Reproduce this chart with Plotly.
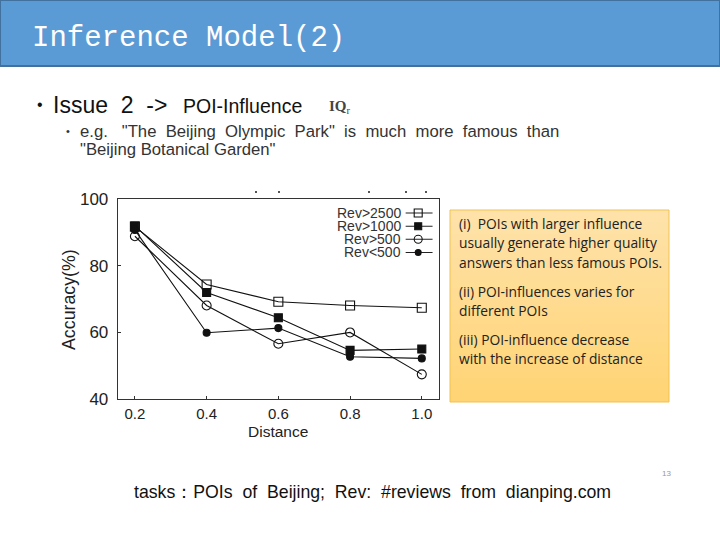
import plotly.graph_objects as go

W, H = 720, 540

distance = [0.2, 0.4, 0.6, 0.8, 1.0]
rev_2500 = [91.8, 74.4, 69.2, 68.1, 67.4]
rev_1000 = [92.0, 72.0, 64.4, 54.6, 55.0]
rev_500 = [88.9, 68.1, 56.6, 60.0, 47.4]
rev_lt500 = [90.8, 59.9, 61.3, 52.7, 52.2]
series_names = ["Rev>2500", "Rev>1000", "Rev>500", "Rev<500"]
y_ticks = [40, 60, 80, 100]
x_ticks = [0.2, 0.4, 0.6, 0.8, 1.0]
x_labels = ["0.2", "0.4", "0.6", "0.8", "1.0"]


def px(x):
    return x / W


def py(y):
    return 1 - y / H


def add_text(fig, x, y, text, size, color="#222222", family="Liberation Sans", anchor="left"):
    fig.add_annotation(
        x=px(x), y=py(y), xref="paper", yref="paper", text=text, showarrow=False,
        xanchor=anchor, yanchor="middle", borderpad=0,
        font=dict(size=size, color=color, family=family),
    )


fig = go.Figure()

# curves
styles = [
    (rev_2500, "square-open", 9),
    (rev_1000, "square", 8),
    (rev_500, "circle-open", 9),
    (rev_lt500, "circle", 7),
]
for (vals, sym, size), name in zip(styles, series_names):
    fig.add_trace(go.Scatter(
        x=distance, y=vals, mode="lines+markers", name=name,
        line=dict(color="#111111", width=1.1),
        marker=dict(symbol=sym, size=size, color="#111111", line=dict(color="#111111", width=1.1)),
        showlegend=False, cliponaxis=False,
    ))

# legend samples, drawn by hand because the symbols sit right of the text
key_x = [0.955, 0.99, 1.03]
key_y = [95.9, 91.9, 88.0, 84.0]
for (vals, sym, size), ky in zip(styles, key_y):
    fig.add_trace(go.Scatter(
        x=key_x, y=[ky] * 3, mode="lines", line=dict(color="#222222", width=1.1),
        showlegend=False, hoverinfo="skip",
    ))
    fig.add_trace(go.Scatter(
        x=key_x[1:2], y=[ky], mode="markers",
        marker=dict(symbol=sym, size=size - 1, color="#111111", line=dict(color="#111111", width=1.1)),
        showlegend=False, hoverinfo="skip",
    ))

fig.update_layout(
    width=W, height=H,
    margin=dict(l=0, r=0, t=0, b=0, autoexpand=False),
    paper_bgcolor="white", plot_bgcolor="white",
    xaxis=dict(
        domain=[px(117.7), px(439)], range=[0.152, 1.048], automargin=False,
        tickvals=x_ticks, ticktext=x_labels, ticks="inside", ticklen=3, tickcolor="#333333",
        showgrid=False, zeroline=False, showline=True, mirror=True, linecolor="#333333", linewidth=1,
        tickfont=dict(size=15, family="Liberation Sans", color="#222222"), ticklabelstandoff=1,
    ),
    yaxis=dict(
        domain=[py(399), py(199.3)], range=[40, 100], automargin=False,
        tickvals=y_ticks, ticks="inside", ticklen=3, tickcolor="#333333",
        showgrid=False, zeroline=False, showline=True, mirror=True, linecolor="#333333", linewidth=1,
        tickfont=dict(size=17, family="Liberation Sans", color="#222222"), ticklabelstandoff=5,
    ),
)

# header band
fig.add_shape(type="rect", xref="paper", yref="paper", x0=0, x1=1, y0=py(66), y1=1,
              fillcolor="#5B9BD5", line=dict(color="#41719C", width=2))

# callout box, gradient made of thin strips
box_l, box_r, box_t, box_b = 450, 669, 210, 402
n_strips = 32
top_col = (254, 226, 170)
bot_col = (255, 212, 116)
for i in range(n_strips):
    t = i / (n_strips - 1)
    col = [round(a + (b - a) * t) for a, b in zip(top_col, bot_col)]
    fig.add_shape(
        type="rect", xref="paper", yref="paper",
        x0=px(box_l), x1=px(box_r),
        y0=py(box_t + (box_b - box_t) * (i + 1) / n_strips),
        y1=py(box_t + (box_b - box_t) * i / n_strips),
        fillcolor="rgb(%d,%d,%d)" % tuple(col), line=dict(width=0),
    )
fig.add_shape(type="rect", xref="paper", yref="paper",
              x0=px(box_l), x1=px(box_r), y0=py(box_b), y1=py(box_t),
              line=dict(color="#F2C14E", width=1))

# leftover specks above the pasted chart
for sx in [255, 278, 368, 405, 425]:
    fig.add_shape(type="rect", xref="paper", yref="paper",
                  x0=px(sx), x1=px(sx + 2), y0=py(193), y1=py(191),
                  fillcolor="#555555", line=dict(width=0))

# slide text
add_text(fig, 31, 38.5, "Inference Model(2)", 29, color="white", family="Liberation Mono")
add_text(fig, 36, 105, "•", 16, color="#111111")
add_text(fig, 52, 105, "Issue&nbsp;&nbsp;2&nbsp;&nbsp;->", 23, color="#111111")
add_text(fig, 182, 106, "POI-Influence", 19.5, color="#111111")
add_text(fig, 328, 107, "<b>IQ</b><sub>r</sub>", 15, color="#444444", family="Liberation Serif")
add_text(fig, 65, 131, "•", 11, color="#333333")
add_text(fig, 79, 131, "e.g.&nbsp;&nbsp;&nbsp;\"The&nbsp;&nbsp;Beijing&nbsp;&nbsp;Olympic&nbsp;&nbsp;Park\"&nbsp;&nbsp;is&nbsp;&nbsp;much&nbsp;&nbsp;more&nbsp;&nbsp;famous&nbsp;&nbsp;than", 16.7, color="#333333")
add_text(fig, 79, 149, "\"Beijing Botanical Garden\"", 16.7, color="#333333")

# axis titles
add_text(fig, 278, 431, "Distance", 15.5, anchor="center")
fig.add_annotation(x=px(69), y=py(300), xref="paper", yref="paper", text="Accuracy(%)",
                   showarrow=False, textangle=-90, xanchor="center", yanchor="middle",
                   font=dict(size=17.8, family="Liberation Sans", color="#222222"))

# legend text
for name, y in zip(series_names, [213, 226.3, 239.3, 252.3]):
    add_text(fig, 402, y, name.replace("<", "&lt;"), 14, color="#333333", anchor="right")

# callout text
callout_lines = [
    ("(i)  POIs with larger influence", 224),
    ("usually generate higher quality", 243),
    ("answers than less famous POIs.", 262),
    ("(ii) POI-influences varies for", 291),
    ("different POIs", 310),
    ("(iii) POI-influence decrease", 339),
    ("with the increase of distance", 358),
]
for line, y in callout_lines:
    add_text(fig, 458, y, line.replace("  ", "&nbsp;&nbsp;"), 13.8, color="#222222", family="Open Sans")

add_text(fig, 661, 473, "13", 8, color="#999999")
add_text(fig, 133, 492, "tasks：POIs&nbsp;&nbsp;of&nbsp;&nbsp;Beijing;&nbsp;&nbsp;Rev:&nbsp;&nbsp;#reviews&nbsp;&nbsp;from&nbsp;&nbsp;dianping.com", 17.7, color="#111111")

fig.write_html("out.html", config={"displayModeBar": False}, post_script="document.body.style.margin='0';")
